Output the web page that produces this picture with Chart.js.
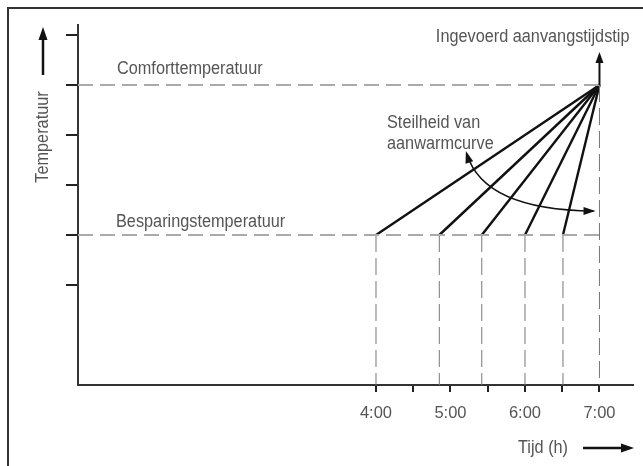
<!DOCTYPE html>
<html>
<head>
<meta charset="utf-8">
<script src="https://cdn.jsdelivr.net/npm/chart.js@4.4.1/dist/chart.umd.min.js"></script>
<style>
  body { margin: 0; background: #fff; }
  #wrap { width: 643px; height: 466px; }
</style>
</head>
<body>
<div id="wrap"><canvas id="chart" width="643" height="466"></canvas></div>
<script>
// heating start times (hours) for the different warm-up slopes
const startTimes = [4.0, 4.85, 5.42, 6.0, 6.51];
const targetTime = 7.0;
const comfortTemp = 6;
const savingTemp = 3;
const xTickValues = [4, 4.5, 5, 5.5, 6, 6.5, 7];
const xTickLabels = ['4:00', '', '5:00', '', '6:00', '', '7:00'];
const yTickValues = [2, 3, 4, 5, 6, 7];

const FONT = "'Liberation Sans', Arial, sans-serif";
const TEXT = '#555';

const heatingLines = startTimes.map(t => ({
  data: [{ x: t, y: savingTemp }, { x: targetTime, y: comfortTemp }],
  borderColor: '#111',
  borderWidth: 2.4,
}));

const dropLines = [...startTimes, targetTime].map(t => ({
  data: [{ x: t, y: t === targetTime ? comfortTemp : savingTemp }, { x: t, y: 0 }],
  borderColor: '#777',
  borderWidth: 1,
  borderDash: [17, 6],
}));

const levelLines = [comfortTemp, savingTemp].map(v => ({
  data: [{ x: 0, y: v }, { x: targetTime, y: v }],
  borderColor: '#aaa',
  borderWidth: 2,
  borderDash: [15, 7],
}));

function arrowHead(ctx, x, y, a, len, w) {
  ctx.beginPath();
  ctx.moveTo(x, y);
  ctx.lineTo(x - len * Math.cos(a) + w * Math.sin(a), y - len * Math.sin(a) - w * Math.cos(a));
  ctx.lineTo(x - len * Math.cos(a) - w * Math.sin(a), y - len * Math.sin(a) + w * Math.cos(a));
  ctx.closePath();
  ctx.fill();
}

function arrow(ctx, x1, y1, x2, y2, len, w) {
  const a = Math.atan2(y2 - y1, x2 - x1);
  ctx.beginPath();
  ctx.moveTo(x1, y1);
  ctx.lineTo(x2 - Math.cos(a) * len * 0.7, y2 - Math.sin(a) * len * 0.7);
  ctx.stroke();
  arrowHead(ctx, x2, y2, a, len, w);
}

// slightly condensed text, like the original narrow typeface
function label(ctx, str, x, y, align, rot) {
  ctx.save();
  ctx.translate(x, y);
  if (rot) ctx.rotate(rot);
  ctx.scale(0.93, 1);
  ctx.textAlign = align;
  ctx.fillText(str, 0, 0);
  ctx.restore();
}

const extras = {
  id: 'extras',
  afterDraw(chart) {
    const ctx = chart.ctx;
    const xs = chart.scales.x, ys = chart.scales.y;
    const px = v => xs.getPixelForValue(v);
    const py = v => ys.getPixelForValue(v);
    ctx.save();

    // outer frame
    ctx.strokeStyle = '#333';
    ctx.lineWidth = 2;
    ctx.strokeRect(8, 8, 700, 520);

    ctx.fillStyle = '#111';
    ctx.strokeStyle = '#111';

    // input start time arrow
    ctx.lineWidth = 2;
    arrow(ctx, px(targetTime), py(comfortTemp), px(targetTime), py(comfortTemp) - 33, 11, 4);

    // axis arrows
    ctx.lineWidth = 2.5;
    arrow(ctx, 43, 75, 43, 27, 13, 4.5);
    arrow(ctx, 583, 448, 634, 448, 13, 4.5);

    // curved arrow for slope
    const p0 = [px(5.22), py(4.62)];
    const c = [px(5.45), py(3.5)];
    const p1 = [px(6.92), py(3.48)];
    ctx.lineWidth = 1.5;
    ctx.beginPath();
    ctx.moveTo(p0[0], p0[1]);
    ctx.quadraticCurveTo(c[0], c[1], p1[0], p1[1]);
    ctx.stroke();
    arrowHead(ctx, p1[0] + 2, p1[1], Math.atan2(p1[1] - c[1], p1[0] - c[0]), 12, 4);
    arrowHead(ctx, p0[0] - 1, p0[1] - 3, Math.atan2(p0[1] - c[1], p0[0] - c[0]), 12, 4);

    // texts
    ctx.fillStyle = TEXT;
    ctx.font = '17.5px ' + FONT;
    ctx.textBaseline = 'alphabetic';
    label(ctx, 'Comforttemperatuur', 117, py(comfortTemp) - 11, 'left');
    label(ctx, 'Besparingstemperatuur', 116, py(savingTemp) - 8, 'left');
    label(ctx, 'Steilheid van', 387, 128, 'left');
    label(ctx, 'aanwarmcurve', 387, 149, 'left');
    label(ctx, 'Ingevoerd aanvangstijdstip', px(targetTime) + 30, 42, 'right');
    ctx.textBaseline = 'middle';
    label(ctx, 'Tijd (h)', 543, 448, 'center');
    label(ctx, 'Temperatuur', 43, 137, 'center', -Math.PI / 2);

    ctx.restore();
  }
};

new Chart(document.getElementById('chart'), {
  type: 'scatter',
  data: { datasets: [...levelLines, ...dropLines, ...heatingLines] },
  options: {
    responsive: false,
    animation: false,
    showLine: true,
    elements: { point: { radius: 0, hoverRadius: 0 }, line: { tension: 0 } },
    layout: { padding: { top: 25, right: 10, left: 0, bottom: 0 } },
    plugins: { legend: { display: false }, tooltip: { enabled: false } },
    scales: {
      x: {
        type: 'linear',
        min: 0,
        max: 7.45,
        afterBuildTicks: s => { s.ticks = xTickValues.map(v => ({ value: v })); },
        afterFit: s => { s.height = 81; },
        ticks: {
          autoSkip: false,
          maxRotation: 0,
          padding: 12,
          color: TEXT,
          font: { family: FONT, size: 16.5 },
          callback: (v, i) => xTickLabels[i],
        },
        grid: { drawOnChartArea: false, tickLength: 7, color: '#222', lineWidth: 2 },
        border: { color: '#333', width: 2 },
      },
      y: {
        min: 0,
        max: 7.2,
        afterBuildTicks: s => { s.ticks = yTickValues.map(v => ({ value: v })); },
        afterFit: s => { s.width = 78; },
        ticks: { display: false },
        grid: { drawOnChartArea: false, tickLength: 12, color: '#222', lineWidth: 2 },
        border: { color: '#333', width: 2 },
      },
    },
  },
  plugins: [extras],
});
</script>
</body>
</html>
